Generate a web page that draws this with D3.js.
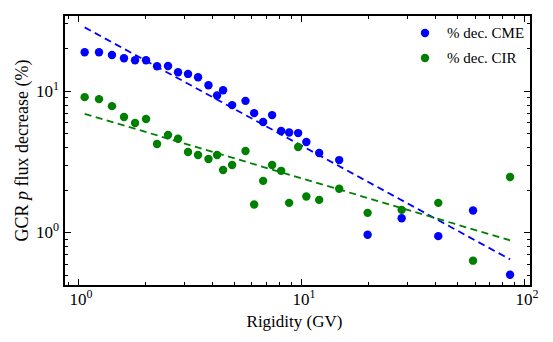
<!DOCTYPE html>
<html>
<head>
<meta charset="utf-8">
<script src="https://cdn.jsdelivr.net/npm/d3@7"></script>
<style>
  body { margin: 0; background: #fff; }
  text { font-family: "Liberation Serif", "Times New Roman", Times, "DejaVu Serif", serif; }
</style>
</head>
<body>
<div id="chart"></div>
<script>
// rigidity bins (GV), shared by both series
var rigidity = [1.072, 1.243, 1.421, 1.609, 1.803, 2.020, 2.263, 2.535, 2.811, 3.116,
                3.456, 3.848, 4.206, 4.475, 4.912, 5.641, 6.166, 6.767, 7.422, 8.149,
                8.851, 9.714, 10.57, 12.07, 14.84, 19.90, 28.28, 41.28, 59.09, 86.6];
var decCME = [18.75, 18.75, 17.94, 17.01, 16.47, 16.47, 14.94, 15.01, 13.55, 13.18,
              12.49, 10.97, 9.27, 10.11, 7.93, 8.50, 6.96, 6.02, 6.74, 5.20,
              5.08, 5.03, 4.35, 3.64, 3.24, 0.960, 1.257, 0.939, 1.425, 0.501];
var decCIR = [9.03, 8.74, 7.80, 6.53, 5.92, 6.32, 4.21, 4.87, 4.59, 3.70,
              3.52, 3.30, 3.52, 2.76, 2.99, 3.76, 1.571, 2.31, 2.99, 2.72,
              1.615, 4.01, 1.789, 1.695, 2.03, 1.372, 1.441, 1.615, 0.630, 2.46];
// power law fits  y = amp * R^index
var fitCME = {amp: 29.85, index: -0.860};
var fitCIR = {amp: 7.11, index: -0.469};
var xTickLabels = ["0", "1", "2"];   // exponents
var yTickLabels = ["0", "1"];
var seriesNames = ["% dec. CME", "% dec. CIR"];
var seriesColors = ["#0000ff", "#008000"];

var width = 553, height = 342;
var margin = {left: 64, right: 22, top: 15, bottom: 56};
var FONT = "Liberation Serif, Times New Roman, DejaVu Serif, serif";

var svg = d3.select("#chart").append("svg")
    .attr("width", width).attr("height", height)
    .attr("font-family", FONT);

var x = d3.scaleLog().domain([0.866, 107.5]).range([margin.left, width - margin.right]);
var y = d3.scaleLog().domain([0.417, 34.4]).range([height - margin.bottom, margin.top]);

var plot = svg.append("g");

function minorTicks(lo, hi) {
    var out = [];
    for (var e = -2; e <= 3; e++)
	for (var m = 1; m < 10; m++) {
	    var v = m * Math.pow(10, e);
	    if (v >= lo && v <= hi) out.push(v);
	}
    return out;
}
var xt = minorTicks(x.domain()[0], x.domain()[1]);
var yt = minorTicks(y.domain()[0], y.domain()[1]);
function isMajor(v) { return Math.abs(Math.log10(v) - Math.round(Math.log10(v))) < 1e-9; }

var x0 = x.range()[0], x1 = x.range()[1], y0 = y.range()[0], y1 = y.range()[1];
var ticks = plot.append("g").attr("stroke", "#000").attr("stroke-width", 1);
xt.forEach(function(v) {
    var L = isMajor(v) ? 7 : 4, px = Math.round(x(v)) + 0.5;
    ticks.append("line").attr("x1", px).attr("x2", px).attr("y1", y0).attr("y2", y0 - L);
    ticks.append("line").attr("x1", px).attr("x2", px).attr("y1", y1).attr("y2", y1 + L);
});
yt.forEach(function(v) {
    var L = isMajor(v) ? 7 : 4, py = Math.round(y(v)) + 0.5;
    ticks.append("line").attr("y1", py).attr("y2", py).attr("x1", x0).attr("x2", x0 + L);
    ticks.append("line").attr("y1", py).attr("y2", py).attr("x1", x1).attr("x2", x1 - L);
});

// fit lines
[fitCME, fitCIR].forEach(function(f, i) {
    var pts = [rigidity[0], rigidity[rigidity.length - 1]].map(function(r) {
	return [r, f.amp * Math.pow(r, f.index)];
    });
    plot.append("path")
	.attr("d", d3.line().x(function(d) { return x(d[0]); }).y(function(d) { return y(d[1]); })(pts))
	.attr("fill", "none").attr("stroke", seriesColors[i])
	.attr("stroke-width", 1.8).attr("stroke-dasharray", "7,4.5");
});

// points
[decCME, decCIR].forEach(function(vals, i) {
    plot.append("g").selectAll("circle").data(vals).enter()
	.append("circle")
	.attr("cx", function(d, j) { return x(rigidity[j]); })
	.attr("cy", function(d) { return y(d); })
	.attr("r", 4.2)
	.attr("fill", seriesColors[i]);
});

// frame
svg.append("rect").attr("x", x0).attr("y", y1)
    .attr("width", x1 - x0).attr("height", y0 - y1)
    .attr("fill", "none").attr("stroke", "#000").attr("stroke-width", 2);

// tick labels
xTickLabels.forEach(function(e) {
    var t = svg.append("text").attr("x", x(Math.pow(10, +e)) + 3).attr("y", y0 + 19)
	.attr("text-anchor", "middle").attr("font-size", 17).text("10");
    t.append("tspan").attr("dy", -7).attr("font-size", 12).text(e);
});
yTickLabels.forEach(function(e) {
    var t = svg.append("text").attr("x", x0 - 5).attr("y", y(Math.pow(10, +e)) + 6)
	.attr("text-anchor", "end").attr("font-size", 17).text("10");
    t.append("tspan").attr("dy", -7).attr("font-size", 12).text(e);
});

// axis labels
svg.append("text").attr("x", (x0 + x1) / 2 - 3).attr("y", 327)
    .attr("text-anchor", "middle").attr("font-size", 17).text("Rigidity (GV)");
var yl = svg.append("text").attr("transform", "translate(28," + ((y0 + y1) / 2) + ") rotate(-90)")
    .attr("text-anchor", "middle").attr("font-size", 18);
yl.append("tspan").text("GCR ");
yl.append("tspan").attr("font-style", "italic").text("p");
yl.append("tspan").text(" flux decrease (%)");

// legend
seriesNames.forEach(function(n, i) {
    var ly = 33 + i * 25;
    svg.append("circle").attr("cx", 425).attr("cy", ly).attr("r", 4.2).attr("fill", seriesColors[i]);
    svg.append("text").attr("x", 447).attr("y", ly + 5).attr("font-size", 15).text(n);
});
</script>
</body>
</html>
